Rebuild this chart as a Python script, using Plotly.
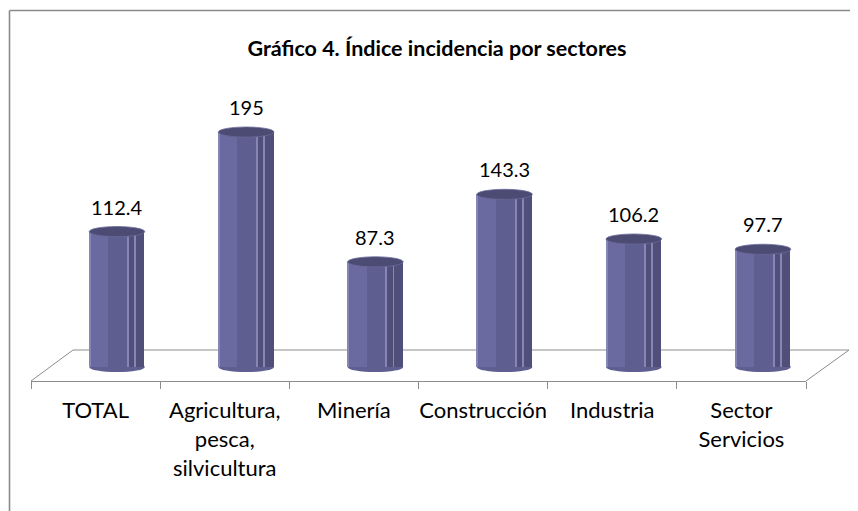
import plotly.graph_objects as go

# ---- data ----
categories = ["TOTAL", "Agricultura, pesca, silvicultura", "Minería",
              "Construcción", "Industria", "Sector Servicios"]
tick_labels = ["TOTAL", "Agricultura,<br>pesca,<br>silvicultura", "Minería",
               "Construcción", "Industria", "Sector<br>Servicios"]
values = [112.4, 195, 87.3, 143.3, 106.2, 97.7]
value_labels = ["112.4", "195", "87.3", "143.3", "106.2", "97.7"]
title_text = "Gráfico 4. Índice incidencia por sectores"

W, H = 858, 511
OFF = 8  # page body margin
FONT = "Lato"
GRID = "#8c8c8c"


def px(x):
    return (x - OFF) / W


def py(y):
    return 1 - (y - OFF) / H


BAR_W = 0.43
fig = go.Figure()

# cylinder body (layered bars for shading)
fig.add_trace(go.Bar(x=categories, y=values, width=BAR_W, marker_color="#5e5e91",
                     marker_line_width=0, hoverinfo="skip", showlegend=False))
fig.add_trace(go.Bar(x=categories, y=values, width=0.15, offset=-BAR_W / 2,
                     marker_color="#6a6aa1", marker_line_width=0,
                     hoverinfo="skip", showlegend=False))
fig.add_trace(go.Bar(x=categories, y=values, width=0.12, offset=BAR_W / 2 - 0.12,
                     marker_color="#4f4f7a", marker_line_width=0,
                     hoverinfo="skip", showlegend=False))
for off in (-BAR_W / 2 + 0.004, 0.085, 0.14):
    fig.add_trace(go.Bar(x=categories, y=values, width=0.007, offset=off,
                         marker_color="#8686b6", marker_line_width=0,
                         hoverinfo="skip", showlegend=False))

# invisible trace to hold the label axis
fig.add_trace(go.Scatter(x=categories, y=values, xaxis="x2", yaxis="y",
                         mode="markers", marker_opacity=0, hoverinfo="skip",
                         showlegend=False))

shapes = []
# floor (back edge and sides)
shapes.append(dict(type="line", xref="paper", yref="paper", x0=px(73), y0=py(350),
                   x1=px(849), y1=py(350), line=dict(color=GRID, width=1), layer="below"))
shapes.append(dict(type="line", xref="paper", yref="paper", x0=px(31), y0=py(381),
                   x1=px(73), y1=py(350), line=dict(color=GRID, width=1), layer="below"))
shapes.append(dict(type="line", xref="paper", yref="paper", x0=px(806), y0=py(381),
                   x1=px(849), y1=py(350), line=dict(color=GRID, width=1), layer="below"))
# chart frame
shapes.append(dict(type="line", xref="paper", yref="paper", x0=px(9.5), y0=py(10.5),
                   x1=px(9.5), y1=-0.2, line=dict(color="#8a8a8a", width=1.6)))
shapes.append(dict(type="line", xref="paper", yref="paper", x0=px(9.5), y0=py(10.5),
                   x1=1.2, y1=py(10.5), line=dict(color="#8a8a8a", width=1.6)))

ELL = 4.2
for i, v in enumerate(values):
    # bottom cap
    shapes.append(dict(type="circle", xref="x", yref="y", x0=i - BAR_W / 2, x1=i + BAR_W / 2,
                       y0=-ELL, y1=ELL, fillcolor="#5e5e91", line_width=0, layer="below"))
    # top cap
    shapes.append(dict(type="circle", xref="x", yref="y", x0=i - BAR_W / 2, x1=i + BAR_W / 2,
                       y0=v - ELL, y1=v + ELL, fillcolor="#4b4b73",
                       line=dict(color="#6a6a98", width=0.8), layer="above"))

annotations = []
for c, v, t in zip(categories, values, value_labels):
    annotations.append(dict(x=c, y=v, xref="x", yref="y", text=t, showarrow=False,
                            yshift=25, font=dict(family=FONT, size=20, color="#000000")))

fig.update_layout(
    width=W, height=H,
    margin=dict(l=0, r=0, t=0, b=0),
    paper_bgcolor="white", plot_bgcolor="rgba(0,0,0,0)",
    barmode="overlay", bargap=0,
    title=dict(text="<b>" + title_text + "</b>", x=px(437), y=py(48),
               xanchor="center", yanchor="middle",
               font=dict(family=FONT, size=21.5, color="#000000")),
    xaxis=dict(domain=[px(52.4), px(827.6)], range=[-0.5, 5.5], visible=False,
               type="category", categoryorder="array", categoryarray=categories),
    xaxis2=dict(domain=[px(31), px(806)], range=[-0.5, 5.5], anchor="y",
                type="category", categoryorder="array", categoryarray=categories,
                tickmode="array", tickvals=categories, ticktext=tick_labels,
                tickangle=0, ticklabelstandoff=10,
                showline=True, linecolor=GRID, linewidth=1,
                ticks="outside", tickson="boundaries", ticklen=7, tickcolor=GRID,
                showgrid=False, zeroline=False,
                tickfont=dict(family=FONT, size=22, color="#000000")),
    yaxis=dict(domain=[py(381), py(100)], range=[-11.6, 221.6], visible=False),
    shapes=shapes,
    annotations=annotations,
)

fig.write_html("out.html")
